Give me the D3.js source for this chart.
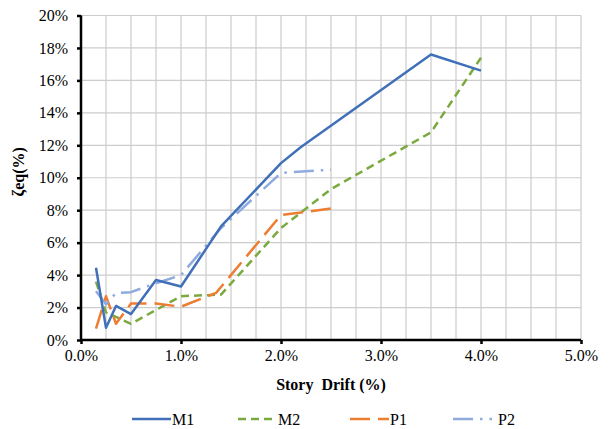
<!DOCTYPE html>
<html><head><meta charset="utf-8">
<script src="https://cdn.jsdelivr.net/npm/d3@7"></script>
<style>
html,body{margin:0;padding:0;background:#fff;}
svg{display:block;}
svg text{font-family:"Liberation Serif","Times New Roman","DejaVu Serif",serif !important;fill:#000;}
</style></head>
<body>
<svg id="chart" width="611" height="429"></svg>
<script>
// ---- data (story drift %, damping %) ----
const seriesNames = ["M1", "M2", "P1", "P2"];
const m1Drift = [0.15, 0.25, 0.35, 0.5, 0.75, 1.0, 1.4, 2.0, 2.2, 3.5, 4.0];
const m1Zeta  = [4.45, 0.75, 2.1, 1.6, 3.7, 3.3, 7.0, 10.9, 11.9, 17.6, 16.6];
const m2Drift = [0.15, 0.25, 0.5, 1.0, 1.4, 2.0, 2.5, 3.5, 4.0];
const m2Zeta  = [3.6, 1.7, 1.0, 2.7, 2.8, 6.9, 9.3, 12.8, 17.4];
const p1Drift = [0.15, 0.25, 0.35, 0.5, 0.75, 1.0, 1.35, 2.0, 2.25, 2.5];
const p1Zeta  = [0.7, 2.7, 1.0, 2.25, 2.25, 2.05, 2.9, 7.7, 7.9, 8.1];
const p2Drift = [0.15, 0.25, 0.35, 0.5, 0.75, 1.0, 1.4, 2.0, 2.5];
const p2Zeta  = [3.0, 2.2, 2.9, 2.95, 3.5, 4.0, 6.9, 10.3, 10.5];
const xTicks = [0, 1, 2, 3, 4, 5];
const yTicks = [0, 2, 4, 6, 8, 10, 12, 14, 16, 18, 20];
const xTickLabels = ["0.0%", "1.0%", "2.0%", "3.0%", "4.0%", "5.0%"];
const yTickLabels = ["0%", "2%", "4%", "6%", "8%", "10%", "12%", "14%", "16%", "18%", "20%"];
const xTitle = "Story  Drift (%)";
const yTitle = "ζeq(%)";

// ---- styles ----
const colors = {M1: "#4170B8", M2: "#7AAA3E", P1: "#ED7D31", P2: "#8FAADC"};
const dashes = {M1: null, M2: "8,5", P1: "20,8", P2: "20,7,2.5,7"};

const series = [
  {name: "M1", pts: m1Drift.map((d, i) => [d, m1Zeta[i]])},
  {name: "M2", pts: m2Drift.map((d, i) => [d, m2Zeta[i]])},
  {name: "P1", pts: p1Drift.map((d, i) => [d, p1Zeta[i]])},
  {name: "P2", pts: p2Drift.map((d, i) => [d, p2Zeta[i]])}
];

const FONT = '"Liberation Serif","Times New Roman","DejaVu Serif",serif';
const svg = d3.select("#chart");
const L = 81, R = 581, T = 15.5, B = 340;
const x = d3.scaleLinear().domain([0, 5]).range([L, R]);
const y = d3.scaleLinear().domain([0, 20]).range([B, T]);

// gridlines
const g = svg.append("g");
const vGrid = d3.range(0.25, 5.001, 0.25);
g.selectAll("line.v").data(vGrid).join("line")
  .attr("x1", d => x(d)).attr("x2", d => x(d))
  .attr("y1", T).attr("y2", B)
  .attr("stroke", "#CCCCCC").attr("stroke-width", 1.2);
g.selectAll("line.h").data(yTicks.filter(d => d > 0)).join("line")
  .attr("x1", L).attr("x2", R)
  .attr("y1", d => y(d)).attr("y2", d => y(d))
  .attr("stroke", "#CCCCCC").attr("stroke-width", 1.2);

// lines
const line = d3.line().x(d => x(d[0])).y(d => y(d[1]));
const order = ["M2", "P1", "P2", "M1"];
svg.append("g").selectAll("path").data(order.map(n => series.find(s => s.name === n))).join("path")
  .attr("d", d => line(d.pts))
  .attr("fill", "none")
  .attr("stroke", d => colors[d.name])
  .attr("stroke-width", 2.5)
  .attr("stroke-dasharray", d => dashes[d.name])
  .attr("stroke-linejoin", "round");

// axes
const xAxis = d3.axisBottom(x).tickValues(xTicks).tickFormat((d, i) => xTickLabels[i]).tickSize(4).tickPadding(6);
const yAxis = d3.axisLeft(y).tickValues(yTicks).tickFormat((d, i) => yTickLabels[i]).tickSize(4).tickPadding(9);
const gx = svg.append("g").attr("transform", `translate(0,${B})`).call(xAxis);
const gy = svg.append("g").attr("transform", `translate(${L},0)`).call(yAxis);
[gx, gy].forEach(a => {
  a.attr("font-family", FONT);
  a.select(".domain").attr("stroke", "#000").attr("stroke-width", 2.5);
  a.selectAll(".tick line").attr("stroke", "#000").attr("stroke-width", 2.5);
  a.selectAll(".tick text").attr("font-family", FONT).attr("font-size", 16).attr("fill", "#000");
});
gx.select(".domain").attr("d", `M${L},0H${R}`);
gy.select(".domain").attr("d", `M0,${B}V${T}`);

// titles
svg.append("text").attr("x", (L + R) / 2).attr("y", 390)
  .attr("text-anchor", "middle").attr("font-size", 16).attr("font-weight", "bold")
  .attr("font-family", FONT)
  .style("white-space", "pre").text(xTitle);
svg.append("text").attr("transform", `translate(24,${(T + B) / 2 - 6}) rotate(-90)`)
  .attr("text-anchor", "middle").attr("font-size", 16).attr("font-weight", "bold")
  .attr("font-family", FONT)
  .text(yTitle);

// legend
const legX = [132, 238, 350, 453];
const legY = 425;
const leg = svg.append("g").attr("font-family", FONT);
seriesNames.forEach((n, i) => {
  leg.append("line").attr("x1", legX[i]).attr("x2", legX[i] + 39)
    .attr("y1", legY - 6).attr("y2", legY - 6)
    .attr("stroke", colors[n]).attr("stroke-width", 2.5)
    .attr("stroke-dasharray", dashes[n]);
  leg.append("text").attr("x", legX[i] + (n === "P2" ? 45 : 40)).attr("y", legY)
    .attr("font-size", 16).text(n);
});
</script>
</body></html>
